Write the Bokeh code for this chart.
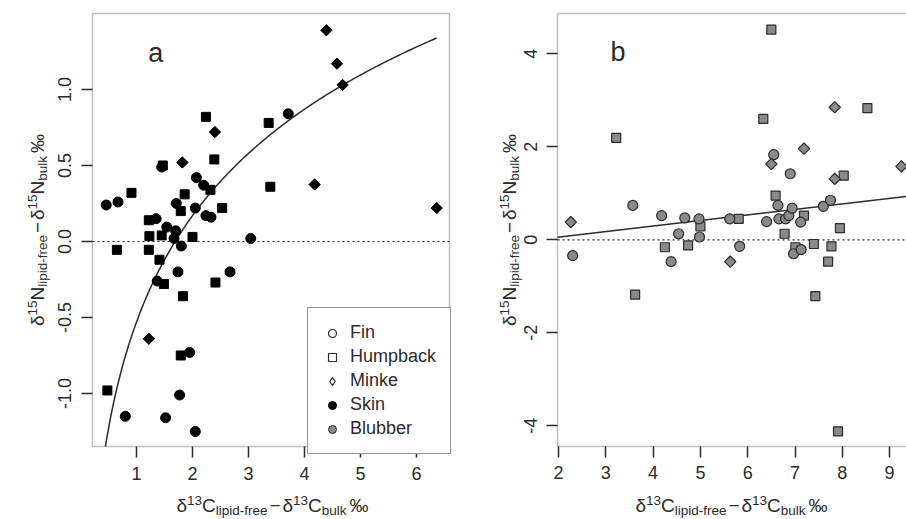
import numpy as np
from bokeh.plotting import figure
from bokeh.models import (Range1d, FixedTicker, Label, Legend, LegendItem,
                          BoxAnnotation, ColumnDataSource)
from bokeh.layouts import row
from bokeh.embed import file_html
from bokeh.resources import INLINE

# ---------------- data: panel a (skin) ----------------
a_fin_x = [3.71, 1.45, 2.07, 2.20, 0.46, 0.67, 1.71, 2.05, 2.24, 2.33, 1.35, 1.54,
           1.70, 1.67, 3.04, 1.80, 1.74, 1.37, 2.67, 1.95, 1.77, 0.80, 1.52, 2.05]
a_fin_y = [0.84, 0.49, 0.42, 0.37, 0.24, 0.26, 0.25, 0.22, 0.17, 0.16, 0.15, 0.095,
           0.07, 0.02, 0.02, -0.03, -0.20, -0.26, -0.20, -0.73, -1.01, -1.15, -1.16, -1.25]
a_hump_x = [2.24, 3.36, 2.39, 0.91, 1.86, 3.39, 2.53, 1.79, 2.32, 1.22, 1.23, 1.45,
            2.00, 0.65, 1.22, 1.41, 1.49, 1.83, 2.41, 1.79, 0.48, 1.47]
a_hump_y = [0.82, 0.78, 0.54, 0.32, 0.31, 0.36, 0.22, 0.20, 0.34, 0.14, 0.035, 0.04,
            0.03, -0.055, -0.055, -0.12, -0.28, -0.36, -0.27, -0.75, -0.98, 0.50]
a_minke_x = [4.39, 4.58, 4.68, 2.40, 1.82, 4.18, 6.36, 1.22]
a_minke_y = [1.39, 1.17, 1.03, 0.72, 0.52, 0.375, 0.22, -0.64]
a_fit_a, a_fit_b = -0.53, 1.01          # fitted curve y = a + b*ln(x)

# ---------------- data: panel b (blubber) ----------------
b_fin_x = [3.57, 4.18, 4.67, 4.97, 4.54, 4.98, 5.62, 6.55, 6.90, 6.64, 6.40, 6.66,
           6.80, 6.87, 6.94, 7.12, 7.60, 7.75, 2.30, 4.38, 5.83, 6.97, 7.13]
b_fin_y = [0.74, 0.52, 0.47, 0.45, 0.13, 0.06, 0.45, 1.83, 1.42, 0.74, 0.39, 0.45,
           0.45, 0.52, 0.68, 0.38, 0.72, 0.85, -0.34, -0.47, -0.14, -0.30, -0.21]
b_hump_x = [6.50, 3.22, 6.33, 8.53, 8.03, 6.59, 5.00, 5.81, 7.19, 6.78, 7.95, 4.25,
            4.74, 3.62, 7.01, 7.40, 7.43, 7.77, 7.70, 7.91]
b_hump_y = [4.52, 2.19, 2.60, 2.83, 1.38, 0.95, 0.29, 0.45, 0.52, 0.13, 0.25, -0.16,
            -0.12, -1.18, -0.16, -0.09, -1.21, -0.14, -0.47, -4.12]
b_minke_x = [2.26, 7.84, 7.19, 6.50, 7.84, 9.25, 5.63]
b_minke_y = [0.38, 2.85, 1.96, 1.63, 1.31, 1.58, -0.47]
b_fit_a, b_fit_b = -0.18, 0.119         # fitted line y = a + b*x

a_xticks = [1, 2, 3, 4, 5, 6]
a_yticks = [-1.0, -0.5, 0.0, 0.5, 1.0]
a_ylabels = ["-1.0", "-0.5", "0.0", "0.5", "1.0"]
b_xticks = [2, 3, 4, 5, 6, 7, 8, 9]
b_yticks = [-4, -2, 0, 2, 4]
b_ylabels = ["-4", "-2", "0", "2", "4"]

legend_labels = ["Fin", "Humpback", "Minke", "Skin", "Blubber"]

# plot-box limits (data units) and full canvas ranges
a_box = dict(left=0.214, right=6.589, bottom=-1.349, top=1.5)
a_view = dict(x=(-1.4286, 6.9643), y=(-1.8290, 1.5855))
b_box = dict(left=1.979, right=9.6, bottom=-4.445, top=4.867)
b_view = dict(x=(0.1395, 9.3573), y=(-6.0151, 5.1462))

FONT = "Liberation Sans"
INK = "#2b2b2b"
GREY = "#8a8a8a"
H = 519
KSHIFT = 0.33   # compensation of the label text-box baseline offset (x font size)

CW = {'δ': 556, 'C': 722, 'N': 722, 'l': 222, 'i': 222, 'p': 556, 'd': 556, '-': 333,
      'f': 278, 'r': 333, 'e': 556, 'b': 556, 'u': 556, 'k': 500, ' ': 278, '−': 584,
      '‰': 1000}


def twidth(s, size):
    return sum(CW.get(c, 556) for c in s) / 1000.0 * size


def compose(p, letter, cx, cy, vertical, main=19.0, small=13.5):
    sup = "15" if letter == "N" else "13"
    # (text, kind, gap before)
    pieces = [("δ", "m", 0), (sup, "sup", 0), (letter, "m", 0), ("lipid-free", "sub", 0),
              ("−", "m", 2), ("δ", "m", 2), (sup, "sup", 0), (letter, "m", 0),
              ("bulk", "sub", 0), ("‰", "m", 3)]
    sizes = [main if k == "m" else small for _, k, _ in pieces]
    widths = [twidth(t, s) + g for (t, _, g), s in zip(pieces, sizes)]
    pos = -sum(widths) / 2.0
    for (t, k, g), s, w in zip(pieces, sizes, widths):
        off = 7.0 if k == "sup" else (-3.5 if k == "sub" else 0.0)
        off += KSHIFT * s
        pos += g
        if vertical:
            lx, ly, ang = cx - off, cy + pos, np.pi / 2
        else:
            lx, ly, ang = cx + pos, cy + off, 0.0
        p.add_layout(Label(x=lx, y=ly, x_units="screen", y_units="screen", text=t,
                           angle=ang, text_font=FONT, text_font_size=f"{s}px",
                           text_color=INK, text_align="left",
                           text_baseline="alphabetic"))
        pos += w - g


def make_panel(width, view, box, xticks, yticks, ylabels):
    p = figure(width=width, height=H, output_backend="svg", toolbar_location=None,
               x_range=Range1d(*view["x"]), y_range=Range1d(*view["y"]),
               min_border=0, min_border_left=0, min_border_right=0,
               min_border_top=0, min_border_bottom=0)
    p.outline_line_color = None
    p.xgrid.visible = False
    p.ygrid.visible = False
    p.add_layout(BoxAnnotation(left=box["left"], right=box["right"],
                               bottom=box["bottom"], top=box["top"],
                               fill_alpha=0, line_color=INK, line_width=1.5,
                               level="underlay"))
    for ax in p.xaxis + p.yaxis:
        ax.axis_line_color = None
        ax.major_tick_line_color = INK
        ax.major_tick_line_width = 1.5
        ax.major_tick_in = 0
        ax.major_tick_out = 11
        ax.minor_tick_line_color = None
        ax.major_label_text_font = FONT
        ax.major_label_text_font_size = "18px"
        ax.major_label_text_color = INK
    p.xaxis.fixed_location = box["bottom"]
    p.yaxis.fixed_location = box["left"]
    p.xaxis.major_label_standoff = 9
    p.yaxis.major_label_standoff = 10
    p.xaxis.ticker = FixedTicker(ticks=xticks)
    p.xaxis.major_label_overrides = {t: str(t) for t in xticks}
    p.yaxis.ticker = FixedTicker(ticks=yticks)
    p.yaxis.major_label_overrides = {t: l for t, l in zip(yticks, ylabels)}
    p.yaxis.major_label_orientation = "vertical"
    # dotted zero reference line across the plot box
    p.line([box["left"], box["right"]], [0, 0], line_color=INK, line_width=1.2,
           line_dash="2 3")
    return p


# ---------------- panel a ----------------
pa = make_panel(470, a_view, a_box, a_xticks, a_yticks, a_ylabels)
xa = np.linspace(np.exp((a_box["bottom"] - a_fit_a) / a_fit_b), 6.36, 200)
pa.line(xa, a_fit_a + a_fit_b * np.log(xa), line_color=INK, line_width=1.5)

pa.scatter(a_hump_x, a_hump_y, marker="square", size=9, fill_color="black",
           line_color="black")
pa.scatter(a_fin_x, a_fin_y, marker="circle", size=10, fill_color="black",
           line_color="black")
pa.scatter(a_minke_x, a_minke_y, marker="square", angle=np.pi / 4, size=8,
           fill_color="black", line_color="black")

pa.add_layout(Label(x=1.21, y=1.243, text="a", text_font=FONT, text_font_size="27px",
                    text_color=INK, text_baseline="alphabetic"))


# legend: renderers with a single NaN point (not drawn in the plot)
def nan_src():
    return ColumnDataSource(dict(x=np.array([np.nan]), y=np.array([np.nan])))


r_fin = pa.scatter("x", "y", source=nan_src(), marker="circle", size=8,
                   fill_color="white", line_color=INK, line_width=1.2)
r_hum = pa.scatter("x", "y", source=nan_src(), marker="square", size=8,
                   fill_color="white", line_color=INK, line_width=1.2)
r_min = pa.scatter("x", "y", source=nan_src(), marker="diamond", size=8,
                   fill_color="white", line_color=INK, line_width=1.2)
r_skn = pa.scatter("x", "y", source=nan_src(), marker="circle", size=8,
                   fill_color="black", line_color="black")
r_blb = pa.scatter("x", "y", source=nan_src(), marker="circle", size=8,
                   fill_color=GREY, line_color=INK)
leg = Legend(items=[LegendItem(label=l, renderers=[r]) for l, r in
                    zip(legend_labels, [r_fin, r_hum, r_min, r_skn, r_blb])],
             location=(307, H - 454), margin=0, padding=14, spacing=3,
             glyph_width=20, glyph_height=20, label_height=20, label_standoff=8,
             label_text_font=FONT, label_text_font_size="18px",
             label_text_color=INK, border_line_color=INK, border_line_width=1.5,
             background_fill_alpha=1.0)
pa.add_layout(leg)

compose(pa, "C", 272, H - 511, False)
compose(pa, "N", 43, H - 229.5, True)

# ---------------- panel b ----------------
pb = make_panel(436, b_view, b_box, b_xticks, b_yticks, b_ylabels)
xb = np.array([b_box["left"], b_box["right"]])
pb.line(xb, b_fit_a + b_fit_b * xb, line_color=INK, line_width=1.5)

pb.scatter(b_hump_x, b_hump_y, marker="square", size=9, fill_color=GREY,
           line_color=INK, line_width=1.2)
pb.scatter(b_fin_x, b_fin_y, marker="circle", size=10, fill_color=GREY,
           line_color=INK, line_width=1.2)
pb.scatter(b_minke_x, b_minke_y, marker="square", angle=np.pi / 4, size=8,
           fill_color=GREY, line_color=INK, line_width=1.2)

pb.add_layout(Label(x=3.10, y=4.03, text="b", text_font=FONT, text_font_size="27px",
                    text_color=INK, text_baseline="alphabetic"))

compose(pb, "C", 731 - 470, H - 511, False)
compose(pb, "N", 515 - 470, H - 229.5, True)

layout = row(pa, pb)
open("out.html", "w").write(file_html(layout, INLINE))
